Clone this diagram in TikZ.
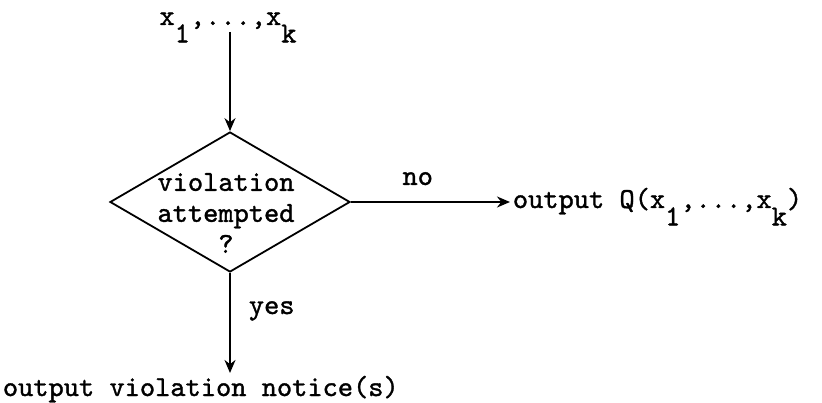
\documentclass[tikz,border=0pt]{standalone}
\usepackage{fontspec}
\newfontfamily\twfont[RawFeature={embolden=1.2}]{lmmono10-regular.otf}
\usepackage{tikz}
\usetikzlibrary{shapes}
\usetikzlibrary{arrows.meta}
\newcommand{\subsc}[1]{\raisebox{-0.6em}[0pt][0pt]{#1}}

\begin{document}
\begin{tikzpicture}[x=1pt,y=-1pt,
            -{Stealth[length=13pt,width=11pt]},
            line width=1.8pt,
            txt/.style = {font=\twfont\fontsize{29}{31}\selectfont,inner sep=2pt},
            decision/.style = {diamond,draw,minimum width=240pt,
                minimum height=140pt,inner sep=0pt},
            lbl/.style = {txt}]
    \useasboundingbox (0,0) rectangle (822,403);
    \node[txt,anchor=base] (inp) at (228,25) {x\subsc{1},...,x\subsc{k}};
    \node[decision] (dec) at (230,202) {};
    \node[txt,align=center] (quest) at (226,213) {violation\\attempted\\?};
    \node[txt,anchor=base west] (outq) at (510,208) {output Q(x\subsc{1},...,x\subsc{k})};
    \node[txt,anchor=base west] (outv) at (0,396) {output violation notice(s)};
    \path
        (inp.south -| dec.north) edge (dec.north)
        (dec.east) edge node[lbl,above=14pt,pos=.42] {no} (outq.west |- dec.east)
        (dec.south) edge node[lbl,right=16pt,pos=.38] {yes} (outv.north -| dec.south);
\end{tikzpicture}
\end{document}
